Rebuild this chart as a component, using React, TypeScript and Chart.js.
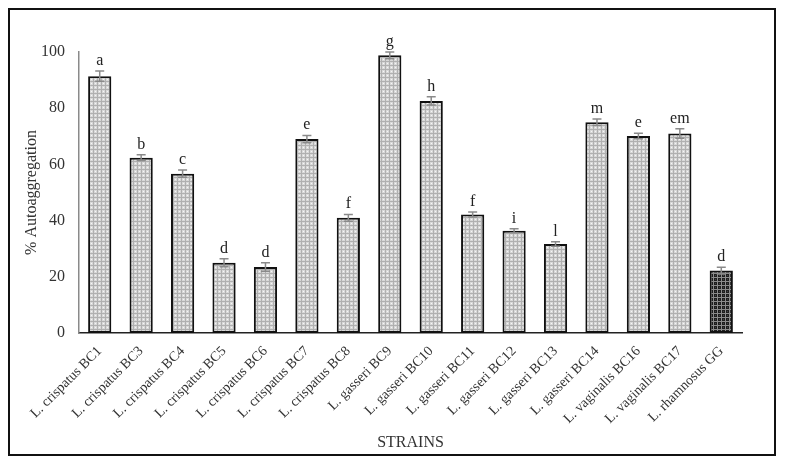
import React, { useEffect, useRef } from "react";
import { Chart, registerables } from "chart.js";

Chart.register(...registerables);

const strains = [
  "L. crispatus BC1",
  "L. crispatus BC3",
  "L. crispatus BC4",
  "L. crispatus BC5",
  "L. crispatus BC6",
  "L. crispatus BC7",
  "L. crispatus BC8",
  "L. gasseri BC9",
  "L. gasseri BC10",
  "L. gasseri BC11",
  "L. gasseri BC12",
  "L. gasseri BC13",
  "L. gasseri BC14",
  "L. vaginalis BC16",
  "L. vaginalis BC17",
  "L. rhamnosus GG",
];
const values = [91.4, 62.4, 56.7, 25.0, 23.5, 69.0, 41.0, 98.8, 82.6, 42.2, 36.4, 31.7, 75.0, 70.1, 71.0, 22.2];
const errors = [1.8, 1.0, 1.3, 1.4, 1.5, 1.3, 1.2, 1.2, 1.5, 0.9, 0.7, 0.8, 1.2, 1.0, 1.7, 1.2];
const letters = ["a", "b", "c", "d", "d", "e", "f", "g", "h", "f", "i", "l", "m", "e", "em", "d"];
const yTicks = [0, 20, 40, 60, 80, 100];

const SERIF = "'Liberation Serif', 'DejaVu Serif', serif";

function makePattern(bg: string, line: string, dot: string) {
  const c = document.createElement("canvas");
  c.width = 4;
  c.height = 4;
  const g = c.getContext("2d")!;
  g.fillStyle = bg;
  g.fillRect(0, 0, 4, 4);
  g.fillStyle = line;
  g.fillRect(0, 3, 4, 1);
  g.fillRect(3, 0, 1, 4);
  g.fillStyle = dot;
  g.fillRect(1, 1, 1, 1);
  const p = document.createElement("canvas").getContext("2d")!.createPattern(c, "repeat");
  return p as CanvasPattern;
}

const errorPlugin = {
  id: "errorLetters",
  afterDatasetsDraw(chart: any) {
    const ctx = chart.ctx;
    const meta = chart.getDatasetMeta(0);
    const y = chart.scales.y;
    ctx.save();
    meta.data.forEach((bar: any, i: number) => {
      const x = bar.x;
      const top = y.getPixelForValue(values[i] + errors[i]);
      const bot = y.getPixelForValue(values[i] - errors[i]);
      ctx.strokeStyle = "#8a8a8a";
      ctx.lineWidth = 1.5;
      ctx.beginPath();
      ctx.moveTo(x, top);
      ctx.lineTo(x, bot);
      ctx.moveTo(x - 4.5, top);
      ctx.lineTo(x + 4.5, top);
      ctx.moveTo(x - 4.5, bot);
      ctx.lineTo(x + 4.5, bot);
      ctx.stroke();
      ctx.fillStyle = "#222";
      ctx.font = `16px ${SERIF}`;
      ctx.textAlign = "center";
      ctx.textBaseline = "alphabetic";
      ctx.fillText(letters[i], x, top - 6);
    });
    ctx.restore();
  },
};

export default function App() {
  const ref = useRef<HTMLCanvasElement | null>(null);
  useEffect(() => {
    if (!ref.current) return;
    const light = makePattern("#d8d8d8", "#b0b0b0", "#f6f6f6");
    const dark = makePattern("#1e1e1e", "#8c8c8c", "#444444");
    const chart = new Chart(ref.current, {
      type: "bar",
      data: {
        labels: strains,
        datasets: [
          {
            data: values,
            backgroundColor: strains.map((_, i) => (i === strains.length - 1 ? dark : light)),
            borderColor: "#111",
            borderWidth: 2,
            borderSkipped: false,
            barPercentage: 0.56,
            categoryPercentage: 1,
          },
        ],
      },
      options: {
        animation: false,
        responsive: false,
        maintainAspectRatio: false,
        layout: { padding: { left: 8, right: 32, top: 42, bottom: 0 } },
        plugins: { legend: { display: false }, tooltip: { enabled: false } },
        scales: {
          x: {
            grid: { display: false },
            border: { display: true, color: "#222", width: 1.5 },
            ticks: {
              autoSkip: false,
              maxRotation: 45,
              minRotation: 45,
              color: "#333",
              font: { family: SERIF, size: 14 },
              padding: 2,
            },
            title: {
              display: true,
              text: "STRAINS",
              color: "#333",
              font: { family: SERIF, size: 16 },
              padding: { top: 0, bottom: 2 },
            },
            afterFit: (s: any) => {
              s.height = 121;
            },
          },
          y: {
            min: 0,
            max: 100,
            grid: { display: false, drawTicks: false },
            border: { display: true, color: "#8a8a8a", width: 1.5 },
            afterBuildTicks: (s: any) => {
              s.ticks = yTicks.map((v) => ({ value: v }));
            },
            ticks: {
              color: "#333",
              font: { family: SERIF, size: 16 },
              padding: 14,
            },
            title: {
              display: true,
              text: "% Autoaggregation",
              color: "#333",
              font: { family: SERIF, size: 16 },
              padding: { top: 4, bottom: 0 },
            },
            afterFit: (s: any) => {
              s.width = 61;
            },
          },
        },
      },
      plugins: [errorPlugin],
    });
    return () => chart.destroy();
  }, []);

  return (
    <div
      style={{
        width: 768,
        height: 448,
        border: "2px solid #111",
        boxSizing: "border-box",
        background: "#fff",
      }}
    >
      <canvas ref={ref} width={764} height={444} style={{ display: "block", width: 764, height: 444 }} />
    </div>
  );
}
